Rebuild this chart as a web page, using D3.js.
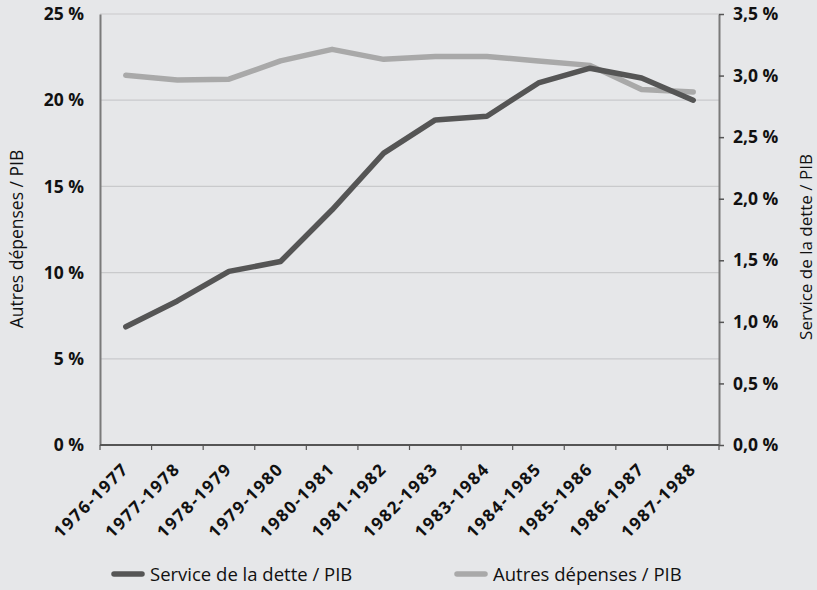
<!DOCTYPE html>
<html>
<head>
<meta charset="utf-8">
<script src="https://cdn.jsdelivr.net/npm/d3@7"></script>
<style>
  html, body { margin: 0; padding: 0; background: #e6e7e9; }
  svg { display: block; font-family: "Open Sans", sans-serif; }
</style>
</head>
<body>
<div id="chart"></div>
<script>
// data
const periods = ["1976-1977", "1977-1978", "1978-1979", "1979-1980", "1980-1981", "1981-1982",
  "1982-1983", "1983-1984", "1984-1985", "1985-1986", "1986-1987", "1987-1988"];
const serviceDette = [0.96, 1.17, 1.41, 1.49, 1.91, 2.37, 2.64, 2.67, 2.94, 3.06, 2.98, 2.80];
const autresDepenses = [21.45, 21.17, 21.22, 22.28, 22.95, 22.37, 22.53, 22.53, 22.28, 22.02, 20.62, 20.48];
const leftTicks = [0, 5, 10, 15, 20, 25];
const rightTicks = [0, 0.5, 1, 1.5, 2, 2.5, 3, 3.5];

const width = 817, height = 590;
const margin = { top: 14, right: 98, bottom: 145, left: 100 };

const svg = d3.select("#chart").append("svg")
  .attr("width", width)
  .attr("height", height);

svg.append("rect").attr("width", width).attr("height", height).attr("fill", "#e6e7e9");

const x = d3.scaleBand()
  .domain(periods)
  .range([margin.left, width - margin.right]);

const yLeft = d3.scaleLinear()
  .domain([0, 25])
  .range([height - margin.bottom, margin.top]);

const yRight = d3.scaleLinear()
  .domain([0, 3.5])
  .range([height - margin.bottom, margin.top]);

const frNum = d3.formatLocale({ decimal: ",", thousands: " ", grouping: [3], currency: ["", " €"] });

// gridlines
svg.append("g")
  .selectAll("line")
  .data(leftTicks.filter(d => d > 0))
  .join("line")
  .attr("x1", margin.left)
  .attr("x2", width - margin.right)
  .attr("y1", d => yLeft(d))
  .attr("y2", d => yLeft(d))
  .attr("stroke", "#c9cacc")
  .attr("stroke-width", 1.2);

// left axis
const leftAxis = svg.append("g")
  .attr("transform", `translate(${margin.left},0)`)
  .call(d3.axisLeft(yLeft).tickValues(leftTicks).tickSize(0).tickPadding(16)
    .tickFormat(d => d + " %"));
leftAxis.select(".domain").attr("stroke", "#7a7a7a").attr("stroke-width", 2);
leftAxis.selectAll("text")
  .attr("font-size", 17.5).attr("font-weight", "bold").attr("fill", "#111")
  .attr("font-family", "Open Sans, sans-serif");

// right axis
const rightAxis = svg.append("g")
  .attr("transform", `translate(${width - margin.right},0)`)
  .call(d3.axisRight(yRight).tickValues(rightTicks).tickSize(5).tickPadding(9)
    .tickSizeOuter(0)
    .tickFormat(d => frNum.format(".1f")(d) + " %"));
rightAxis.select(".domain").attr("stroke", "#7a7a7a").attr("stroke-width", 2);
rightAxis.selectAll("line").attr("stroke", "#555").attr("stroke-width", 1.5);
rightAxis.selectAll("text")
  .attr("font-size", 17.5).attr("font-weight", "bold").attr("fill", "#111")
  .attr("font-family", "Open Sans, sans-serif");

// bottom axis with ticks at category boundaries
const bottom = svg.append("g")
  .attr("transform", `translate(0,${height - margin.bottom})`);
bottom.append("line")
  .attr("x1", margin.left).attr("x2", width - margin.right)
  .attr("stroke", "#555").attr("stroke-width", 2);
const bounds = periods.map(p => x(p)).concat([x.range()[1]]);
bottom.selectAll("line.tick")
  .data(bounds)
  .join("line")
  .attr("class", "tick")
  .attr("x1", d => d).attr("x2", d => d)
  .attr("y1", 0).attr("y2", 5)
  .attr("stroke", "#555").attr("stroke-width", 1.2);
bottom.selectAll("text")
  .data(periods)
  .join("text")
  .attr("transform", d => `translate(${x(d) + x.bandwidth() / 2 + 4},${25}) rotate(-45)`)
  .attr("text-anchor", "end")
  .attr("font-size", 17)
  .attr("letter-spacing", 1.6)
  .attr("font-weight", "bold")
  .attr("fill", "#111")
  .text(d => d);

// axis titles
svg.append("text")
  .attr("transform", `translate(23,239) rotate(-90)`)
  .attr("text-anchor", "middle")
  .attr("font-size", 17.5)
  .attr("fill", "#111")
  .text("Autres dépenses / PIB");

svg.append("text")
  .attr("transform", `translate(812,247) rotate(-90)`)
  .attr("text-anchor", "middle")
  .attr("font-size", 17)
  .attr("fill", "#111")
  .text("Service de la dette / PIB");

// lines
const cx = d => x(d) + x.bandwidth() / 2;

const lineLeft = d3.line()
  .x((d, i) => cx(periods[i]))
  .y(d => yLeft(d));

const lineRight = d3.line()
  .x((d, i) => cx(periods[i]))
  .y(d => yRight(d));

svg.append("path")
  .datum(autresDepenses)
  .attr("d", lineLeft)
  .attr("fill", "none")
  .attr("stroke", "#a9a9a9")
  .attr("stroke-width", 5.5)
  .attr("stroke-linecap", "round")
  .attr("stroke-linejoin", "round");

svg.append("path")
  .datum(serviceDette)
  .attr("d", lineRight)
  .attr("fill", "none")
  .attr("stroke", "#555555")
  .attr("stroke-width", 5.5)
  .attr("stroke-linecap", "round")
  .attr("stroke-linejoin", "round");

// legend
const legendItems = [
  { label: "Service de la dette / PIB", color: "#555555", x: 114 },
  { label: "Autres dépenses / PIB", color: "#a9a9a9", x: 457 }
];
const legend = svg.append("g");
legendItems.forEach(item => {
  legend.append("line")
    .attr("x1", item.x).attr("x2", item.x + 28)
    .attr("y1", 574).attr("y2", 574)
    .attr("stroke", item.color)
    .attr("stroke-width", 5.5)
    .attr("stroke-linecap", "round");
  legend.append("text")
    .attr("x", item.x + 36)
    .attr("y", 581)
    .attr("font-size", 18.5)
    .attr("fill", "#111")
    .text(item.label);
});
</script>
</body>
</html>
